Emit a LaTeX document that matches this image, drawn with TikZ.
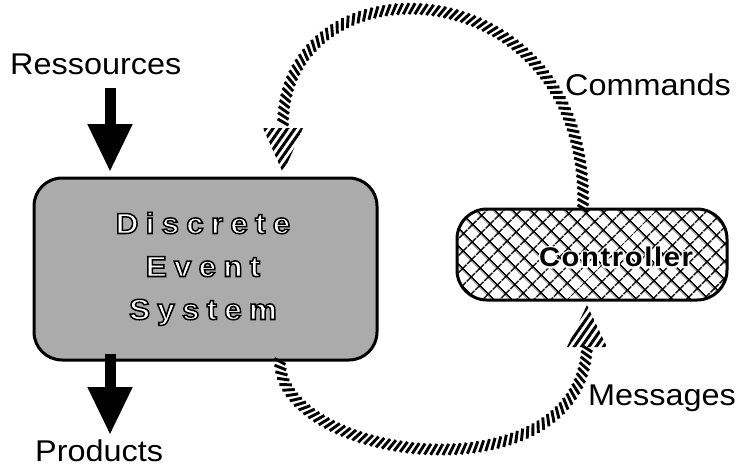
\documentclass[tikz,border=0pt]{standalone}
\usepackage{fontspec}
\usetikzlibrary{arrows.meta,patterns.meta,decorations.markings,calc}
\setmainfont{Liberation Sans}
\newfontfamily\lblfont[FakeStretch=1.08]{Liberation Sans}
\newfontfamily\desfont[FakeStretch=1.08,LetterSpace=25]{Liberation Sans Bold}
\newfontfamily\ctlfont[FakeStretch=1.08,LetterSpace=6]{Liberation Sans Bold}

% hollow letters: white inside, black outline (PDF text render mode 2)
\newcommand\hollowtext[1]{%
  \special{pdf:literal direct 2 Tr 1.5 w 1 g 0 G}#1%
  \special{pdf:literal direct 0 Tr 0 g 0 G}}
% black letters on a white halo
\newcommand\halotext[1]{%
  \rlap{\special{pdf:literal direct 1 Tr 3.6 w 1 G 1 J 1 j}#1%
  \special{pdf:literal direct 0 Tr 0 G 0 J 0 j}}#1}

\tikzset{
  lbl/.style={font=\lblfont\fontsize{30}{30}\selectfont, anchor=base west, inner sep=0pt},
  desbox/.style={draw, line width=3pt, rounded corners=28pt, fill=black!33,
    minimum width=343pt, minimum height=182pt, inner sep=0pt},
  ctrlbox/.style={draw, line width=3pt, rounded corners=30pt,
    pattern={Hatch[angle=45,distance=13pt,line width=1.8pt]},
    minimum width=270pt, minimum height=91pt, inner sep=0pt},
  bigarrow/.style={line width=11pt, -{Triangle[width=42pt,length=48pt]}},
  hatchband/.style={decorate, decoration={markings,
    mark=between positions 0 and 1 step 6pt with
      {\draw[line width=2.9pt] (-3pt,-5.5pt) -- (3pt,5.5pt);}}},
  hatchhead/.style={pattern={Lines[angle=55,distance=6pt,line width=3pt]}},
}

\begin{document}
\begin{tikzpicture}[x=1pt,y=-1pt]
  \fill[white] (0,0) rectangle (737,466);
  \useasboundingbox (0,0) rectangle (737,466);

  % the two blocks
  \node[desbox] (dsys) at (205.5,269) {};
  \node[ctrlbox] (ctrl) at (592,254.5) {};

  \node[align=center, inner sep=0pt,
        font=\desfont\fontsize{29}{43}\selectfont] (destext) at (203,269)
    {\hollowtext{Discrete}\\ \hollowtext{Event}\\ \hollowtext{System}};
  \node[inner sep=0pt, font=\ctlfont\fontsize{27}{27}\selectfont] (ctrltext) at (616,257)
    {\halotext{Controller}};

  % labels
  \node[lbl] (res) at (10,74) {Ressources};
  \node[lbl] (prod) at (35,461) {Products};
  \node[lbl] (cmd) at (565,95) {Commands};
  \node[lbl] (msg) at (588,405) {Messages};

  % material flow in and out
  \coordinate (resfrom) at (110,88);
  \coordinate (prodto) at (110,435);
  \draw[bigarrow, shorten >=4.5pt] (resfrom) -- (resfrom |- dsys.north);
  \draw[bigarrow] ([yshift=8pt]dsys.south -| prodto) -- (prodto);

  % commands: controller -> system
  \path (ctrl.north) ++(-9,0) coordinate (cmdstart);
  \coordinate (cmdtip) at (283,173);
  \coordinate (cmdbase) at ($(cmdtip)+(0,-45)$);
  \path[hatchband] (cmdstart) .. controls (590,-37) and (280,-47) .. (cmdbase);
  \fill[hatchhead] ($(cmdbase)+(-20,0)$) -- ($(cmdbase)+(20,0)$) -- (cmdtip) -- cycle;

  % messages: system -> controller
  \coordinate (msgx) at (280,0);
  \coordinate (msgstart) at (dsys.south -| msgx);
  \coordinate (msgtip) at (587,305);
  \coordinate (msgbase) at ($(msgtip)+(0,42)$);
  \path[hatchband] (msgstart) .. controls (280,462) and (580,500) .. (msgbase);
  \fill[hatchhead] ($(msgbase)+(-20,0)$) -- ($(msgbase)+(20,0)$) -- (msgtip) -- cycle;
\end{tikzpicture}
\end{document}
